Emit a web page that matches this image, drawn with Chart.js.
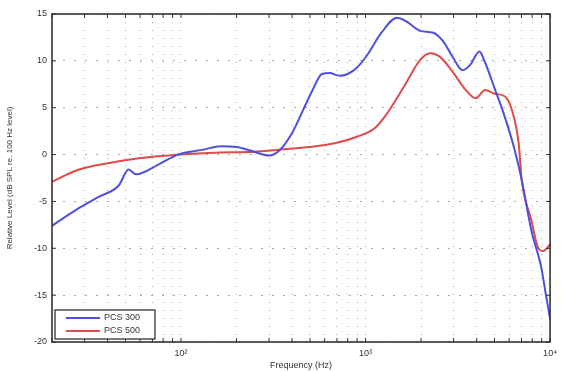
<!DOCTYPE html>
<html>
<head>
<meta charset="utf-8">
<script src="https://cdn.jsdelivr.net/npm/chart.js@4.4.1/dist/chart.umd.min.js"></script>
<style>
  html, body { margin: 0; padding: 0; background: #fff; }
  #wrap { width: 563px; height: 371px; }
</style>
</head>
<body>
<div id="wrap"><canvas id="respChart" width="563" height="371"></canvas></div>
<script>
// PCS 300 response (frequency in Hz, level in dB)
const freq300 = [20, 27, 36, 46, 52, 57, 75, 96, 130, 165, 200, 240, 300, 340, 400, 460, 520, 580,
  640, 720, 800, 900, 1020, 1220, 1480, 1670, 1980, 2330, 2630, 2970, 3360, 3700, 4140, 4450,
  5040, 5690, 6430, 7020, 7920, 8950, 9500, 10000];
const level300 = [-7.6, -5.9, -4.5, -3.3, -1.6, -2.1, -1.1, 0.0, 0.5, 0.9, 0.8, 0.4, -0.1, 0.4, 2.3, 4.8, 7.0, 8.6,
  8.7, 8.4, 8.6, 9.3, 10.6, 13.0, 14.6, 14.2, 13.2, 13.0, 12.1, 10.4, 9.0, 9.6, 11.0, 9.8,
  6.9, 4.0, 0.5, -2.7, -8.1, -12.0, -15.0, -17.5];

// PCS 500 response
const freq500 = [20, 28, 41, 59, 100, 150, 250, 330, 490, 680, 900, 1120, 1310, 1610, 1980, 2240,
  2540, 3000, 3490, 3950, 4450, 5000, 5700, 6200, 6760, 7020, 7920, 8600, 9200, 10000];
const level500 = [-2.9, -1.6, -0.9, -0.4, 0.0, 0.2, 0.3, 0.5, 0.8, 1.2, 1.9, 2.8, 4.4, 7.2, 10.1, 10.8,
  10.4, 8.7, 6.9, 6.0, 6.9, 6.5, 6.2, 4.8, 1.2, -2.7, -7.0, -9.9, -10.3, -9.6];

// axis ticks
const xGridTicks = [20, 30, 40, 50, 60, 70, 80, 90, 100, 200, 300, 400, 500, 600, 700, 800, 900,
  1000, 2000, 3000, 4000, 5000, 6000, 7000, 8000, 9000, 10000];
const xLabelTicks = { 100: '10\u00b2', 1000: '10\u00b3', 10000: '10\u2074' };
const yTicks = [-20, -15, -10, -5, 0, 5, 10, 15];

const toPoints = (xs, ys) => xs.map((x, i) => ({ x: x, y: ys[i] }));

// box around the axes plus little inward ticks, matlab style
const boxPlugin = {
  id: 'box',
  afterDraw(chart) {
    const { ctx, chartArea: a, scales } = chart;
    ctx.save();
    ctx.strokeStyle = '#333';
    ctx.lineWidth = 1;
    ctx.beginPath();
    scales.x.ticks.forEach(t => {
      const px = scales.x.getPixelForValue(t.value);
      ctx.moveTo(px, a.bottom); ctx.lineTo(px, a.bottom - 4);
      ctx.moveTo(px, a.top); ctx.lineTo(px, a.top + 4);
    });
    scales.y.ticks.forEach(t => {
      const py = scales.y.getPixelForValue(t.value);
      ctx.moveTo(a.left, py); ctx.lineTo(a.left + 4, py);
      ctx.moveTo(a.right, py); ctx.lineTo(a.right - 4, py);
    });
    ctx.stroke();
    ctx.lineWidth = 1.6;
    ctx.strokeRect(a.left, a.top, a.right - a.left, a.bottom - a.top);
    ctx.restore();
  }
};

// legend drawn inside the plot, lower left
const insideLegend = {
  id: 'insideLegend',
  afterDraw(chart) {
    const { ctx, chartArea: a } = chart;
    const x0 = a.left + 3, y0 = a.bottom - 32, w = 100, h = 29;
    ctx.save();
    ctx.fillStyle = '#fff';
    ctx.fillRect(x0, y0, w, h);
    ctx.strokeStyle = '#222';
    ctx.lineWidth = 1.2;
    ctx.strokeRect(x0, y0, w, h);
    ctx.font = '9px "Liberation Sans", Arial, sans-serif';
    ctx.textBaseline = 'middle';
    chart.data.datasets.forEach((ds, i) => {
      const yy = y0 + 8 + i * 13;
      ctx.strokeStyle = ds.borderColor;
      ctx.lineWidth = 2;
      ctx.beginPath();
      ctx.moveTo(x0 + 11, yy); ctx.lineTo(x0 + 45, yy);
      ctx.stroke();
      ctx.fillStyle = '#333';
      ctx.fillText(ds.label, x0 + 49, yy);
    });
    ctx.restore();
  }
};

new Chart(document.getElementById('respChart').getContext('2d'), {
  type: 'line',
  data: {
    datasets: [
      {
        label: 'PCS 300',
        data: toPoints(freq300, level300),
        borderColor: '#4f4fe0',
        borderWidth: 2,
        pointRadius: 0,
        cubicInterpolationMode: 'monotone',
        fill: false
      },
      {
        label: 'PCS 500',
        data: toPoints(freq500, level500),
        borderColor: '#e24a4a',
        borderWidth: 2,
        pointRadius: 0,
        cubicInterpolationMode: 'monotone',
        fill: false
      }
    ]
  },
  options: {
    responsive: false,
    animation: false,
    layout: { padding: { top: 14, right: 4, left: 5, bottom: 0 } },
    plugins: {
      legend: { display: false },
      tooltip: { enabled: false }
    },
    scales: {
      x: {
        type: 'logarithmic',
        min: 20,
        max: 10000,
        afterBuildTicks: scale => { scale.ticks = xGridTicks.map(v => ({ value: v })); },
        afterFit: scale => { scale.height = 29; },
        ticks: {
          autoSkip: false,
          maxRotation: 0,
          padding: 6,
          color: '#333',
          font: { size: 9, family: '"Liberation Sans", Arial, sans-serif' },
          callback: v => xLabelTicks[v] || ''
        },
        grid: { color: '#a8a8a8', lineWidth: 1, drawTicks: false },
        border: { display: false, dash: [1, 7] },
        title: {
          display: true,
          text: 'Frequency (Hz)',
          color: '#333',
          padding: { top: 0, bottom: 0 },
          font: { size: 9, family: '"Liberation Sans", Arial, sans-serif' }
        }
      },
      y: {
        min: -20,
        max: 15,
        afterBuildTicks: scale => { scale.ticks = yTicks.map(v => ({ value: v })); },
        afterFit: scale => { scale.width = 47; },
        ticks: {
          padding: 5,
          color: '#333',
          font: { size: 9, family: '"Liberation Sans", Arial, sans-serif' }
        },
        grid: { color: '#a8a8a8', lineWidth: 1, drawTicks: false },
        border: { display: false, dash: [2, 9] },
        title: {
          display: true,
          text: 'Relative Level (dB SPL re. 100 Hz level)',
          color: '#333',
          padding: { top: 0, bottom: 2 },
          font: { size: 8, family: '"Liberation Sans", Arial, sans-serif' }
        }
      }
    }
  },
  plugins: [boxPlugin, insideLegend]
});
</script>
</body>
</html>
